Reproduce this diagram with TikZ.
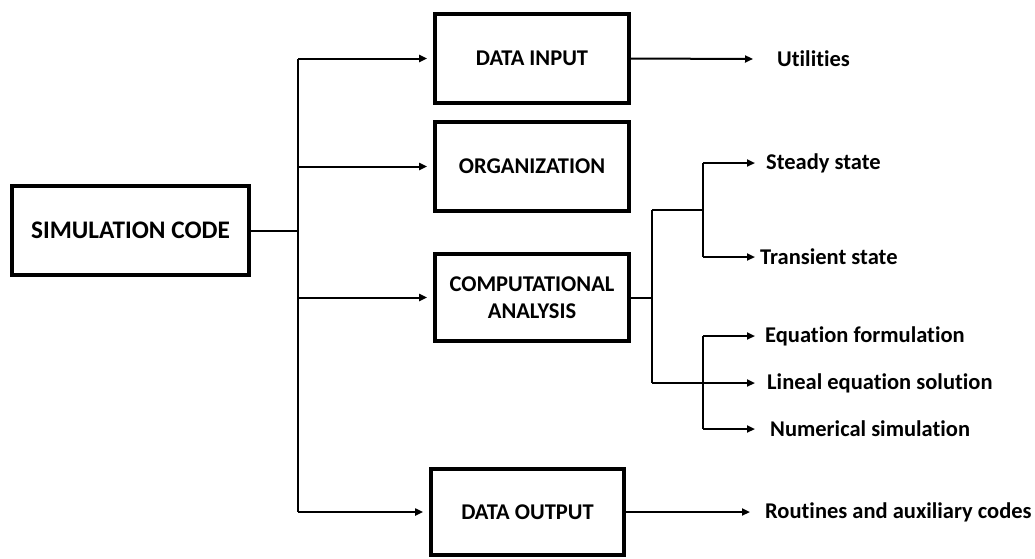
\documentclass[tikz,border=0pt]{standalone}
\usepackage{fontspec}
\setmainfont{Carlito}[Ligatures={NoCommon}]
\usetikzlibrary{arrows.meta}
\begin{document}
\begin{tikzpicture}[x=1pt,y=-1pt,
  box/.style={draw,line width=3.8pt,inner sep=0pt,font=\bfseries\fontsize{22.5}{27}\selectfont,align=center},
  conn/.style={line width=2pt},
  arr/.style={line width=2pt,-{Triangle[length=8pt,width=7pt]}},
  lbl/.style={anchor=west,inner ysep=0pt,font=\bfseries\fontsize{22.5}{26}\selectfont}]
\useasboundingbox (0,0) rectangle (1035,558);
% main boxes
\node[box,minimum width=237pt,minimum height=89pt,font=\bfseries\fontsize{25.3}{30}\selectfont] (sim) at (130.5,230.5) {SIMULATION CODE};
\node[box,minimum width=194pt,minimum height=89pt] (din) at (532,58.5) {DATA INPUT};
\node[box,minimum width=194pt,minimum height=89pt] (org) at (532,166.5) {ORGANIZATION};
\node[box,minimum width=194pt,minimum height=87pt] (comp) at (532,297.5) {COMPUTATIONAL\\ANALYSIS};
\node[box,minimum width=193pt,minimum height=86pt] (dout) at (527.5,512) {DATA OUTPUT};
% labels
\node[lbl,inner xsep=24pt] (util) at (753,59) {Utilities};
\node[lbl,inner xsep=11pt] (steady) at (755,163) {Steady state};
\node[lbl,inner xsep=5pt] (trans) at (755,257) {Transient state};
\node[lbl,inner xsep=10pt] (eqf) at (755,336) {Equation formulation};
\node[lbl,inner xsep=12pt] (lin) at (755,383) {Lineal equation solution};
\node[lbl,inner xsep=15pt] (num) at (755,429) {Numerical simulation};
\node[lbl,inner xsep=15pt] (rout) at (750,512) {Routines and auxiliary codes};
% trunk
\coordinate (j0) at (298,230.5);
\coordinate (t1) at (298,58.5);
\coordinate (t2) at (298,166.5);
\coordinate (t3) at (298,297.5);
\coordinate (t4) at (298,512);
\draw[conn] (sim.east) -- (j0);
\draw[conn] (t1) -- (t4);
\draw[arr,shorten >=6pt] (t1) -- (din.west);
\draw[arr,shorten >=6pt] (t2) -- (org.west);
\draw[arr,shorten >=6pt] (t3) -- (comp.west);
\draw[arr,shorten >=6pt] (t4) -- (dout.west);
% right side
\draw[arr] (din.east) -- (util.west);
\draw[arr] (dout.east) -- (rout.west);
\coordinate (c0) at (652,297.5);
\coordinate (c1) at (652,210);
\coordinate (c2) at (652,383);
\coordinate (u0) at (703,210);
\coordinate (u1) at (703,163);
\coordinate (u2) at (703,257);
\coordinate (l1) at (703,336);
\coordinate (l3) at (703,429);
\draw[conn] (comp.east) -- (c0);
\draw[conn] (c1) -- (c2);
\draw[conn] (c1) -- (u0);
\draw[conn] (u1) -- (u2);
\draw[arr] (u1) -- (steady.west);
\draw[arr] (u2) -- (trans.west);
\draw[conn] (l1) -- (l3);
\draw[arr] (l1) -- (eqf.west);
\draw[arr] (c2) -- (lin.west);
\draw[arr] (l3) -- (num.west);
\end{tikzpicture}
\end{document}
